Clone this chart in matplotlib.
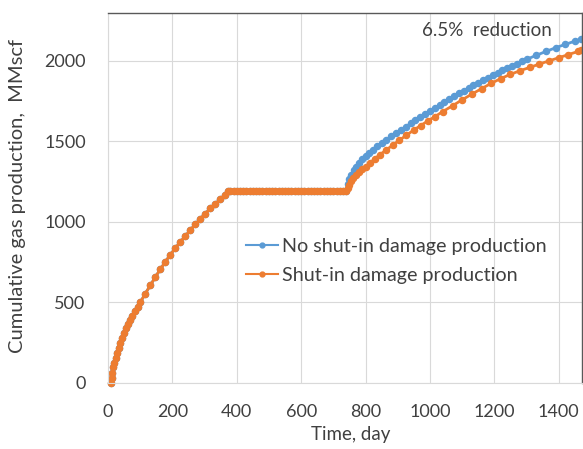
import matplotlib.pyplot as plt

plt.rcParams['font.family'] = ['Lato', 'DejaVu Sans']

# production before and during the shut-in (both cases identical)
days_early = [10, 12, 14, 17, 20, 24, 28, 33, 38, 44, 50, 56, 62, 69, 76, 84, 92,
              101, 116, 132, 147, 163, 178, 194, 209, 225, 240, 256, 271, 287,
              302, 318, 333, 349, 364, 372,
              380, 390, 400, 410, 420, 430, 440, 450, 460, 470, 480, 490, 500,
              510, 520, 530, 540, 550, 560, 570, 580, 590, 600, 610, 620, 630,
              640, 650, 660, 670, 680, 690, 700, 710, 720, 730, 740]
gas_early = [0, 30, 60, 95, 120, 155, 185, 215, 245, 280, 310, 337, 362, 390, 415,
             443, 470, 500, 553, 605, 655, 705, 750, 795, 835, 875, 910, 948, 983,
             1018, 1050, 1082, 1110, 1140, 1168, 1190,
             1190, 1190, 1190, 1190, 1190, 1190, 1190, 1190, 1190, 1190, 1190,
             1190, 1190, 1190, 1190, 1190, 1190, 1190, 1190, 1190, 1190, 1190,
             1190, 1190, 1190, 1190, 1190, 1190, 1190, 1190, 1190, 1190, 1190,
             1190, 1190, 1190, 1190]

# after reopening: no shut-in damage
days_nodamage = [745, 750, 756, 763, 771, 780, 790, 800, 811, 823, 836, 850, 865,
                 880, 895, 910, 925, 940, 955, 970, 985, 1000, 1015, 1030, 1045,
                 1060, 1075, 1090, 1105, 1120, 1135, 1150, 1165, 1180, 1195, 1210,
                 1225, 1240, 1255, 1270, 1285, 1300, 1330, 1360, 1390, 1420, 1450,
                 1470]
gas_nodamage = [1235, 1265, 1292, 1318, 1342, 1366, 1388, 1408, 1428, 1448, 1468,
                1488, 1509, 1530, 1550, 1570, 1590, 1610, 1629, 1648, 1667, 1686,
                1705, 1724, 1742, 1760, 1778, 1796, 1813, 1830, 1847, 1863, 1879,
                1895, 1910, 1925, 1940, 1954, 1968, 1982, 1995, 2008, 2033, 2057,
                2080, 2101, 2121, 2134]

# after reopening: with shut-in damage
days_damage = [744, 749, 755, 762, 770, 779, 789, 800, 813, 828, 845, 864, 884,
               905, 927, 949, 971, 993, 1015, 1040, 1070, 1100, 1130, 1160, 1190,
               1220, 1250, 1280, 1310, 1340, 1370, 1400, 1430, 1460, 1470]
gas_damage = [1208, 1228, 1250, 1270, 1290, 1310, 1326, 1342, 1364, 1390, 1417,
              1445, 1475, 1506, 1537, 1568, 1597, 1625, 1652, 1684, 1720, 1757,
              1792, 1826, 1859, 1889, 1915, 1938, 1958, 1979, 1999, 2018, 2038,
              2057, 2064]

blue = '#5B9BD5'
orange = '#ED7D31'
txt = '#404040'

fig = plt.figure(figsize=(5.83, 4.49), dpi=100)
ax = fig.add_axes([107.9 / 583, 1 - 382.7 / 449, (582 - 107.9) / 583, (382.7 - 13.3) / 449])

style = dict(marker='o', markersize=4.4, linewidth=2.0, clip_on=False)
ax.plot(days_early + days_nodamage, gas_early + gas_nodamage, color=blue,
        label='No shut-in damage production', **style)
ax.plot(days_early + days_damage, gas_early + gas_damage, color=orange,
        label='Shut-in damage production', **style)

ax.set_xlim(0, 1472)
ax.set_ylim(0, 2294)
ax.set_xticks(range(0, 1401, 200))
ax.set_yticks(range(0, 2001, 500))
ax.grid(True, color='#D9D9D9', linewidth=0.8)
ax.set_axisbelow(True)
ax.tick_params(length=0, labelsize=13, colors=txt)
ax.tick_params(axis='y', pad=16)
ax.tick_params(axis='x', pad=15)

for side in ['left', 'bottom']:
    ax.spines[side].set_color('#D9D9D9')
for side in ['top', 'right']:
    ax.spines[side].set_color('#595959')
    ax.spines[side].set_linewidth(1.0)

ax.set_xlabel('Time, day', fontsize=13.5, color=txt)
ax.xaxis.set_label_coords((351 - 107.9) / 474.1, (382.7 - 426) / 369.4)
fig.text(18 / 583, 1 - 196 / 449, 'Cumulative gas production,  MMscf', fontsize=14.5,
         color=txt, rotation=90, ha='center', va='center')

ax.text(1380, 2190, '6.5%  reduction', fontsize=13.5, color=txt, ha='right', va='center')

leg = ax.legend(loc='upper left', bbox_to_anchor=((246 - 107.9) / 474.1, (382.7 - 238) / 369.4),
                frameon=False, fontsize=14.2, labelcolor=txt, handlelength=1.6,
                handletextpad=0.2, borderaxespad=0, borderpad=0, labelspacing=0.62)
for h in leg.legend_handles:
    h.set_markersize(3.5)
    h.set_linewidth(1.5)

fig.savefig('out.png', dpi=100)
